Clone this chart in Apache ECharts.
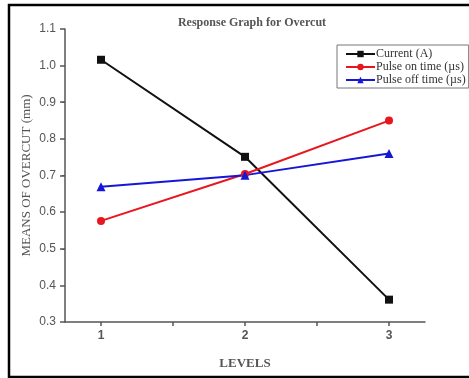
<!DOCTYPE html>
<html>
<head>
<meta charset="utf-8">
<script src="https://cdn.jsdelivr.net/npm/echarts@6/dist/echarts.min.js"></script>
<style>
  html, body { margin: 0; padding: 0; background: #fff; }
  #main { width: 469px; height: 378px; }
</style>
</head>
<body>
<div id="main"></div>
<script>
// levels on the x axis
const levels = [1, 2, 3];
const current = [1.016, 0.751, 0.361];
const pulseOn = [0.576, 0.704, 0.850];
const pulseOff = [0.669, 0.701, 0.760];
const yTicks = [0.3, 0.4, 0.5, 0.6, 0.7, 0.8, 0.9, 1.0, 1.1];

const serif = 'Liberation Serif, Times New Roman, serif';
const sans = 'Liberation Sans, Arial, sans-serif';

const pairs = (vals) => levels.map((l, i) => [l, vals[i]]);

const chart = echarts.init(document.getElementById('main'));
chart.setOption({
  animation: false,
  backgroundColor: '#fff',
  title: {
    text: 'Response Graph for Overcut',
    left: 247, top: 12, textAlign: 'center',
    textStyle: {fontFamily: serif, fontSize: 12, fontWeight: 'bold', color: '#555'}
  },
  legend: {
    left: 337, top: 45,
    orient: 'vertical',
    itemWidth: 29, itemHeight: 8, itemGap: 1,
    padding: [3, 3, 2, 8],
    borderColor: '#777', borderWidth: 1,
    textStyle: {fontFamily: serif, fontSize: 12, color: '#333', padding: [0, 0, 0, -4]},
    data: ['Current (A)', 'Pulse on time (µs)', 'Pulse off time (µs)']
  },
  grid: {left: 65, top: 29, right: 44, bottom: 56, containLabel: false},
  xAxis: {
    type: 'value', min: 0.75, max: 3.25,
    name: 'LEVELS', nameLocation: 'middle', nameGap: 35, nameMoveOverlap: false,
    nameTextStyle: {fontFamily: serif, fontSize: 13, color: '#555', fontWeight: 'bold'},
    axisLine: {lineStyle: {color: '#555', width: 1.5}},
    axisTick: {show: true, customValues: [1, 1.5, 2, 2.5, 3], length: 4, lineStyle: {color: '#555', width: 1.5}},
    axisLabel: {customValues: levels, fontFamily: sans, fontSize: 12, color: '#555', fontWeight: 'bold', margin: 8},
    splitLine: {show: false}
  },
  yAxis: {
    type: 'value', min: 0.3, max: 1.1,
    name: 'MEANS OF OVERCUT (mm)', nameLocation: 'middle', nameGap: 32, nameMoveOverlap: false,
    nameTextStyle: {fontFamily: serif, fontSize: 13, color: '#555'},
    axisLine: {show: true, lineStyle: {color: '#555', width: 1.5}},
    axisTick: {show: true, customValues: yTicks, length: 5, lineStyle: {color: '#555', width: 1.5}},
    minorTick: {show: true, splitNumber: 2, length: 3, lineStyle: {color: '#555', width: 1}},
    axisLabel: {customValues: yTicks, formatter: (v) => v.toFixed(1), fontFamily: sans, fontSize: 12, color: '#555', margin: 9},
    splitLine: {show: false}
  },
  series: [
    {
      name: 'Current (A)', type: 'line', data: pairs(current),
      symbol: 'rect', symbolSize: 8,
      lineStyle: {color: '#111', width: 2}, itemStyle: {color: '#111'}
    },
    {
      name: 'Pulse on time (µs)', type: 'line', data: pairs(pulseOn),
      symbol: 'circle', symbolSize: 8,
      lineStyle: {color: '#e8161e', width: 2}, itemStyle: {color: '#e8161e'}
    },
    {
      name: 'Pulse off time (µs)', type: 'line', data: pairs(pulseOff),
      symbol: 'triangle', symbolSize: 9,
      lineStyle: {color: '#1616d6', width: 2}, itemStyle: {color: '#1616d6'}
    }
  ],
  graphic: [{
    type: 'rect', silent: true,
    shape: {x: 9, y: 5, width: 462, height: 372},
    style: {fill: null, stroke: '#000', lineWidth: 2.5}
  }]
});
</script>
</body>
</html>
